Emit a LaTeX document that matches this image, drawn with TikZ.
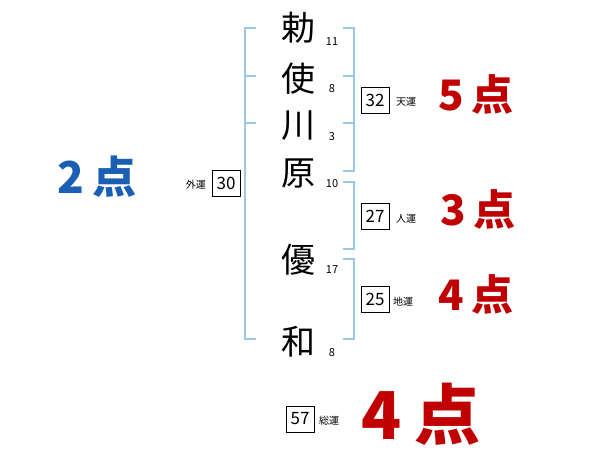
\documentclass[tikz,border=0pt]{standalone}
\usepackage{fontspec}
\setmainfont{Noto Sans CJK JP}
\definecolor{brk}{HTML}{9CC8E8}
\definecolor{scorered}{HTML}{C00000}
\definecolor{scoreblue}{HTML}{1A5FB4}
\begin{document}
\begin{tikzpicture}[x=1pt,y=-1pt,
  kanji/.style={font=\fontsize{34}{34}\selectfont, inner sep=0pt},
  strokes/.style={font=\fontsize{11}{11}\selectfont, inner sep=0pt},
  numbox/.style={draw=black, line width=0.6pt, minimum width=28pt, minimum height=26pt, inner sep=0pt, font=\fontsize{17}{17}\selectfont},
  unkaku/.style={font=\fontsize{10}{10}\selectfont, inner sep=0pt},
  scoreR/.style={text=scorered, font=\fontsize{42}{42}\selectfont\bfseries, inner sep=0pt},
  bracket/.style={draw=brk, line width=1.6pt}]
\useasboundingbox (0,0) rectangle (600,470);
% kanji
\node[kanji] (k1) at (298,28) {勅};
\node[kanji] (k2) at (298,79) {使};
\node[kanji] (k3) at (298,126) {川};
\node[kanji] (k4) at (298,174) {原};
\node[kanji] (k5) at (298,260) {優};
\node[kanji] (k6) at (298,342) {和};
% stroke counts
\node[strokes] (s1) at (332,42) {11};
\node[strokes] (s2) at (332,89) {8};
\node[strokes] (s3) at (332,137) {3};
\node[strokes] (s4) at (332,184) {10};
\node[strokes] (s5) at (332,270) {17};
\node[strokes] (s6) at (332,353) {8};
% left bracket (gaiun)
\draw[bracket] (256,28) -- (245,28) -- (245,339) -- (256,339);
\draw[bracket] (245,76) -- (256,76);
\draw[bracket] (245,123) -- (256,123);
% right brackets
\draw[bracket] (343,28) -- (354,28) -- (354,171) -- (343,171);
\draw[bracket] (354,76) -- (343,76);
\draw[bracket] (354,123) -- (343,123);
\draw[bracket] (343,182) -- (354,182) -- (354,249) -- (343,249);
\draw[bracket] (343,259) -- (354,259) -- (354,339) -- (343,339);
% boxes
\node[numbox] (gai) at (226,183) {30};
\node[unkaku, anchor=east] (gail) at (206,185) {外運};
\node[numbox] (ten) at (375,100) {32};
\node[unkaku, anchor=west] (tenl) at (396,102) {天運};
\node[numbox] (jin) at (375,216) {27};
\node[unkaku, anchor=west] (jinl) at (396,219) {人運};
\node[numbox] (chi) at (375,299) {25};
\node[unkaku, anchor=west] (chil) at (393,302) {地運};
\node[numbox] (sou) at (300,419) {57};
\node[unkaku, anchor=west] (soul) at (319,421) {総運};
% scores
\node[scoreR] (p1) at (476,94) {5\hspace{8pt}点};
\node[scoreR] (p2) at (478,209) {3\hspace{8pt}点};
\node[scoreR] (p3) at (476,294) {4\hspace{8pt}点};
\node[scoreR, font=\fontsize{66}{66}\selectfont\bfseries] (p4) at (421,414) {4\hspace{12pt}点};
\node[scoreR, text=scoreblue, font=\fontsize{44}{44}\selectfont\bfseries] (p0) at (97,177) {2\hspace{8pt}点};
\end{tikzpicture}
\end{document}
